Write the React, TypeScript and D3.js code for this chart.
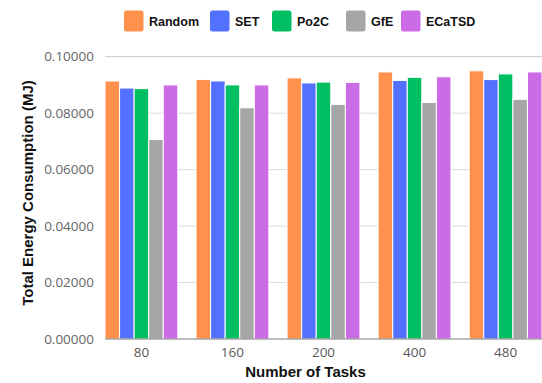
import React from "react";
import * as d3 from "d3";

const categories = ["80", "160", "200", "400", "480"];
const seriesNames = ["Random", "SET", "Po2C", "GfE", "ECaTSD"];
const colors = ["#FF914D", "#5271FF", "#00BF63", "#A6A6A6", "#CB6CE6"];
const randomVals = [0.0914, 0.0919, 0.0925, 0.0946, 0.095];
const setVals = [0.0889, 0.0914, 0.0907, 0.0916, 0.0919];
const po2cVals = [0.0887, 0.09, 0.091, 0.0927, 0.0939];
const gfeVals = [0.0707, 0.0819, 0.0831, 0.0838, 0.0849];
const ecatsdVals = [0.09, 0.09, 0.0909, 0.0929, 0.0946];
const yTicks = [0, 0.02, 0.04, 0.06, 0.08, 0.1];

const W = 542;
const H = 383;
const left = 105;
const right = 542;
const top = 56.7;
const bottom = 339;

export default function App() {
  const series = [randomVals, setVals, po2cVals, gfeVals, ecatsdVals];
  const x = d3.scaleBand<string>().domain(categories).range([left, right]).paddingInner(0.2).paddingOuter(0);
  const xs = d3.scaleBand<string>().domain(seriesNames).range([0, x.bandwidth()]).padding(0);
  const y = d3.scaleLinear().domain([0, 0.1]).range([bottom, top]);
  const fmt = d3.format(".5f");
  const font = "'Open Sans', sans-serif";
  const boldFont = "'Liberation Sans', Arial, sans-serif";

  const legendX = [124, 210, 272, 346, 401];

  return (
    <svg width={W} height={H} style={{ position: "absolute", left: 0, top: 0 }}>
      <rect width={W} height={H} fill="#fff" />
      {yTicks.map((t) => (
        <g key={t}>
          {t > 0 && (
            <line x1={left} x2={right} y1={y(t)} y2={y(t)} stroke={t === 0.1 ? "#c8c8c8" : "#dcdcdc"} strokeWidth={1} />
          )}
          <text x={94} y={y(t)} dy="0.35em" textAnchor="end" fontFamily={font} fontSize={13.5} fill="#666">
            {fmt(t)}
          </text>
        </g>
      ))}
      {categories.map((c, i) => (
        <g key={c}>
          {series.map((vals, s) => (
            <rect
              key={s}
              x={(x(c) as number) + (xs(seriesNames[s]) as number)}
              y={y(vals[i])}
              width={xs.bandwidth()}
              height={bottom - y(vals[i])}
              fill={colors[s]}
              stroke="#fff"
              strokeWidth={1}
            />
          ))}
          <text x={(x(c) as number) + x.bandwidth() / 2} y={356.5} textAnchor="middle" fontFamily={font} fontSize={13.5} fill="#595959">
            {c}
          </text>
        </g>
      ))}
      <line x1={left} x2={right} y1={bottom} y2={bottom} stroke="#7a7a7a" strokeWidth={1} />
      <text x={305.5} y={377} textAnchor="middle" fontFamily={boldFont} fontWeight="bold" fontSize={15} fill="#111">
        Number of Tasks
      </text>
      <text
        transform={`translate(32.5,193) rotate(-90)`}
        textAnchor="middle"
        fontFamily={boldFont}
        fontWeight="bold"
        fontSize={15}
        fill="#111"
      >
        Total Energy Consumption (MJ)
      </text>
      {seriesNames.map((n, s) => (
        <g key={n}>
          <rect x={legendX[s]} y={10.5} width={19.5} height={21} rx={2.5} fill={colors[s]} />
          <text x={legendX[s] + 25} y={21.5} dy="0.35em" fontFamily={boldFont} fontWeight="bold" fontSize={12.5} fill="#111">
            {n}
          </text>
        </g>
      ))}
    </svg>
  );
}
